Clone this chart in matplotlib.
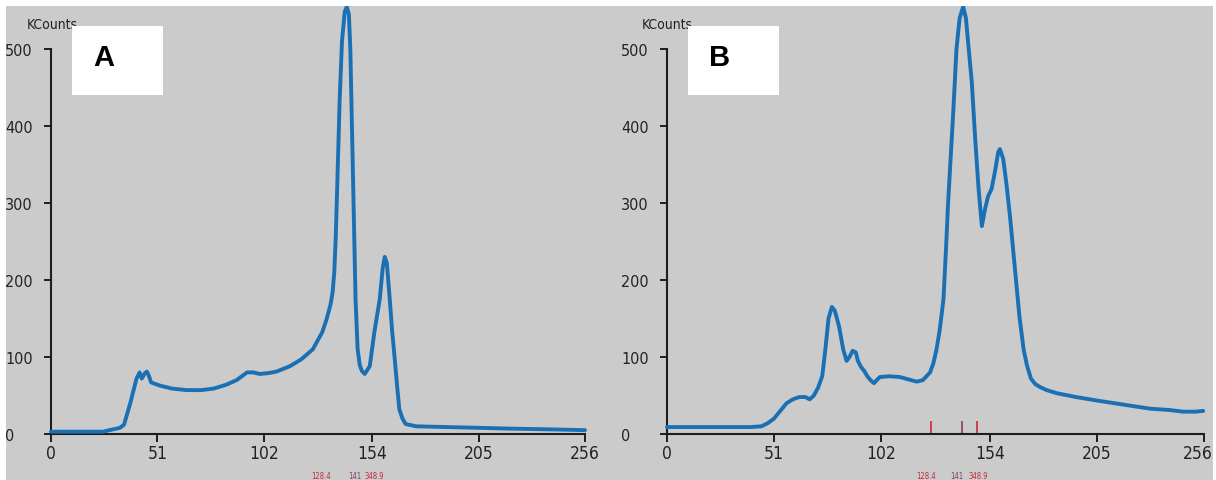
import matplotlib
matplotlib.use("Agg")
import matplotlib.pyplot as plt
import matplotlib.transforms as mtransforms
from matplotlib.patches import Rectangle

plt.rcParams['font.family'] = ['DejaVu Sans']
plt.rcParams['font.stretch'] = 'condensed'

# ---------------- data ----------------
xticks = [0, 51, 102, 154, 205, 256]
yticks = [0, 100, 200, 300, 400, 500]

a_x = [0, 10, 20, 25, 28, 33, 35, 38, 41, 42.5, 43.5, 45, 46, 47, 48, 52, 58, 65, 72, 78,
       84, 89, 92, 94, 97, 100, 104, 108, 114.5, 120, 125.5, 130, 132, 134, 135, 135.8,
       136.5, 137.3, 138.4, 139.5, 140.8, 141.8, 142.8, 143.5, 144, 145, 146, 147, 148,
       149, 150.4, 152.8, 155, 157.6, 159, 160, 161, 162.4, 163.5, 164.8, 166, 167,
       168.5, 170, 175, 190, 205, 220, 240, 256]
a_y = [3, 3, 3, 3, 5, 8, 12, 40, 72, 80, 72, 79, 81, 75, 67, 63, 59, 57, 57, 59,
       64, 70, 76, 80, 80, 78, 79, 81, 88, 97, 110, 132, 148, 168, 184, 210,
       255, 330, 435, 510, 548, 555, 545, 500, 435, 305, 175, 110, 90,
       82, 78, 88, 132, 175, 215, 230, 222, 175, 135, 97, 60, 32,
       20, 13, 10, 9, 8, 7, 6, 5]

b_x = [0, 20, 40, 45, 48, 51, 54, 57, 60, 63, 66, 68, 70, 72, 74, 75.5, 77, 78.6, 80,
       82, 84, 85.6, 87, 88.5, 90, 91, 92.5, 94, 95.5, 97, 98.7, 100, 101.5, 106, 111,
       115, 119, 122, 125.4, 127, 128.5, 130, 131.8, 133, 134, 135, 136.5, 138, 139.5,
       141.2, 142.5, 143.5, 145.3, 147, 148.5, 150.1, 151.6, 153.1, 154.7, 156.3,
       157.9, 158.7, 160.3, 161.8, 163.5, 165.5, 168, 170, 171.6, 173.5, 175.5, 177.8,
       181, 185.8, 195, 206, 218, 230, 240, 246, 252, 255.6]
b_y = [9, 9, 9, 10, 14, 20, 30, 40, 45, 48, 48, 45, 50, 60, 75, 110, 150, 165, 160,
       140, 110, 95, 100, 108, 106, 95, 87, 82, 75, 70, 66, 70, 74, 75, 74,
       71, 68, 70, 80, 92, 110, 135, 175, 240, 300, 348, 420, 500, 540,
       555, 540, 510, 457, 380, 320, 270, 292, 309, 318, 340,
       366, 370, 357, 325, 283, 225, 153, 110, 89, 72, 65, 61,
       57, 53, 48, 43, 38, 33, 31, 29, 29, 30]

marker_texts = ["128.4", "141", "348.9"]
marker_colors = ["#c8283c", "#8a3a66", "#c8283c"]
a_label_x = [129.3, 145.5, 155.0]
b_label_x = [123.5, 138.2, 148.6]
b_marker_x = [126.0, 140.6, 147.8]
b_marker_h = 17

W, H = 1216, 481
fig = plt.figure(figsize=(W / 100, H / 100), dpi=100)
fig.patch.set_facecolor("white")

def fx(px):
    return px / W

def fy(py):
    return 1 - py / H

# gray background
fig.add_artist(Rectangle((fx(6), fy(481)), fx(1213) - fx(6), fy(7) - fy(481),
                         transform=fig.transFigure, facecolor="#cbcbcb",
                         edgecolor="none", zorder=-5))

line_color = "#1a70b5"
px_per_unit = 0.77
ytop = (435 - 7) / px_per_unit

def make_axes(left_px, right_px, xs, ys, label_x, letter, box_left, kc_left, markers):
    ax = fig.add_axes([fx(left_px), fy(435), fx(right_px) - fx(left_px), fy(7) - fy(435)])
    ax.set_facecolor("none")
    ax.set_xlim(0, 256)
    ax.set_ylim(0, ytop)
    for s in ["top", "right"]:
        ax.spines[s].set_visible(False)
    for s in ["left", "bottom"]:
        ax.spines[s].set_linewidth(1.5)
        ax.spines[s].set_color("#1e1e1e")
    ax.spines["left"].set_bounds(0, 500)
    ax.spines["bottom"].set_bounds(0, 256)
    ax.set_xticks(xticks)
    ax.set_xticklabels([str(t) for t in xticks])
    ax.set_yticks(yticks)
    ax.set_yticklabels([str(t) for t in yticks])
    ax.tick_params(axis="x", direction="out", length=5.8, width=1.4, color="#1e1e1e",
                   labelsize=12.5, pad=1.5, labelcolor="#222222")
    ax.tick_params(axis="y", direction="out", length=5, width=1.4, color="#1e1e1e",
                   labelsize=11.5, pad=28, labelcolor="#222222")
    for lab in ax.get_yticklabels():
        lab.set_horizontalalignment("left")
    ax.plot(xs, ys, color=line_color, lw=2.8, solid_capstyle="round",
            solid_joinstyle="round", clip_on=False, zorder=3)
    if markers is not None:
        ax.vlines(markers, 0, b_marker_h, colors=marker_colors, lw=1.2, zorder=2)
    for xv, t, c in zip(label_x, marker_texts, marker_colors):
        ax.text(xv, (435 - 477) / px_per_unit, t, color=c, fontsize=5.5,
                ha="center", va="center", clip_on=False)
    # KCounts
    fig.text(fx(kc_left), fy(25), "KCounts", fontsize=10, color="#222222",
             ha="left", va="center")
    # letter box
    fig.add_artist(Rectangle((fx(box_left), fy(96)), fx(91) - fx(0), fy(27) - fy(96),
                             transform=fig.transFigure, facecolor="white",
                             edgecolor="none", zorder=8))
    fig.text(fx(box_left + 32), fy(58), letter, fontsize=21, fontweight="bold",
             family=["Liberation Sans", "DejaVu Sans"], fontstretch="normal",
             color="black", ha="center", va="center", zorder=9)
    return ax

make_axes(51, 585, a_x, a_y, a_label_x, "A", 72, 27, None)
axb = make_axes(667, 1204, b_x, b_y, b_label_x, "B", 688, 642, b_marker_x)

# keep the last label of panel B inside the picture
last = axb.get_xticklabels()[-1]
shift = mtransforms.ScaledTranslation(-6 / 100, 0, fig.dpi_scale_trans)
for lab in [last]:
    lab.set_transform(lab.get_transform() + shift)

# white borders (crop edges of the original screenshot)
for (x0, y0, x1, y1) in [(0, 0, W, 7), (0, 0, 6, H), (1214, 0, W, H)]:
    fig.add_artist(Rectangle((fx(x0), fy(y1)), fx(x1) - fx(x0), fy(y0) - fy(y1),
                             transform=fig.transFigure, facecolor="white",
                             edgecolor="none", zorder=20))

fig.savefig("out.png", dpi=100, facecolor="white")
